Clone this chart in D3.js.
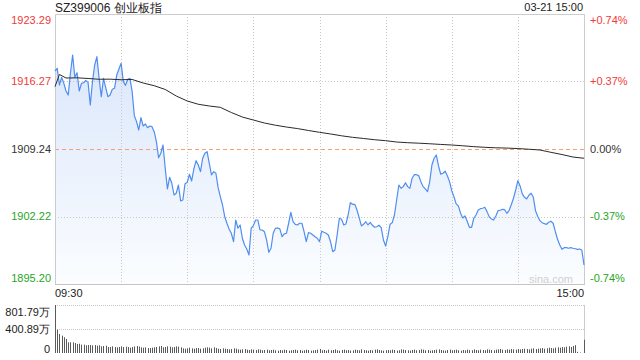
<!DOCTYPE html>
<html><head><meta charset="utf-8">
<script src="https://cdn.jsdelivr.net/npm/d3@7"></script>
<style>html,body{margin:0;padding:0;background:#fff;}svg{display:block;font-family:Arial,"Liberation Sans",sans-serif;}</style>
</head><body><svg id="c" width="640" height="360"></svg>
<script>
const title = "SZ399006 创业板指";
const dateLabel = "03-21 15:00";
const prevClose = 1909.24;
const priceTicks = [1923.29, 1916.27, 1909.24, 1902.22, 1895.20];
const pctLabels = ["+0.74%", "+0.37%", "0.00%", "-0.37%", "-0.74%"];
const timeLabels = ["09:30", "15:00"];
const gridMinutes = [30, 60, 90, 120, 150, 180, 210];
const volTicks = [801.79, 400.89, 0];
const volLabels = ["801.79万", "400.89万", "0"];

const price = [
1917.36,1917.64,1915.90,1916.70,1916.08,1915.28,1914.86,1917.12,1919.02,1916.70,
1917.18,1915.28,1916.08,1916.14,1916.39,1916.18,1913.82,1916.25,1917.98,1918.85,
1916.60,1914.69,1916.60,1915.62,1914.69,1914.86,1915.46,1915.56,1916.94,1917.57,
1918.16,1916.25,1915.87,1916.50,1916.60,1915.21,1912.71,1912.09,1911.22,1912.50,
1911.64,1911.85,1911.46,1911.64,1911.57,1911.05,1910.01,1908.34,1908.80,1909.66,
1907.24,1905.09,1906.30,1905.68,1904.46,1904.64,1905.50,1903.84,1903.94,1905.64,
1905.78,1906.62,1905.92,1907.17,1908.03,1907.58,1906.89,1908.28,1908.80,1908.97,
1907.76,1906.54,1906.89,1906.72,1905.22,1904.29,1903.42,1902.20,1901.52,1900.89,
1900.48,1899.60,1901.86,1901.00,1901.34,1899.96,1899.26,1898.84,1898.22,1901.00,
1901.27,1901.86,1901.86,1900.82,1900.82,1900.64,1899.78,1898.50,1898.92,1900.48,
1901.00,1901.03,1900.93,1900.12,1900.41,1900.48,1901.52,1902.66,1901.68,1901.41,
1901.34,1901.52,1901.52,1900.64,1899.60,1900.54,1900.48,1900.30,1900.12,1899.96,
1899.60,
1900.69,1900.58,1900.48,1900.30,1899.60,1898.56,1898.74,1900.30,1902.04,1901.93,
1901.34,1901.45,1902.38,1903.66,1903.49,1903.49,1902.90,1902.10,1901.24,1901.41,
1901.68,1901.34,1901.62,1901.31,1901.10,1901.16,1901.31,1901.06,1899.78,1899.16,
1900.12,1901.41,1901.58,1902.38,1903.94,1905.50,1905.16,1905.33,1905.74,1905.33,
1905.16,1906.20,1906.57,1906.57,1906.47,1905.85,1905.33,1905.09,1904.81,1905.85,
1907.58,1908.28,1908.62,1907.48,1906.62,1906.72,1906.93,1906.47,1905.85,1904.91,
1904.29,1903.53,1903.32,1902.56,1902.07,1902.28,1901.73,1901.10,1901.10,1902.04,
1902.38,1902.90,1903.04,1903.08,1903.18,1902.73,1902.20,1901.97,1901.86,1902.28,
1902.83,1902.87,1902.97,1902.93,1902.56,1902.83,1903.45,1904.12,1904.98,1905.95,
1905.40,1904.57,1904.22,1904.05,1904.43,1904.64,1904.22,1902.83,1902.25,1901.79,
1901.58,1901.48,1901.41,1901.62,1901.73,1901.52,1900.64,1899.85,1899.26,1898.81,
1898.98,1898.98,1898.92,1898.98,1898.92,1898.87,1898.81,1898.84,1898.74,1897.18
];

const avgMinutes = [0,2,5,10,15,20,25,30,35,40,45,50,55,60,65,70,75,80,85,90,95,100,105,110,115,120,
125,130,135,140,145,150,155,160,165,170,175,180,185,190,195,200,205,210,215,220,225,230,235,240];
const avgPrice = [1915.73,1917.00,1916.63,1916.65,1916.58,1916.50,1916.51,1916.45,1916.48,1916.11,
1915.83,1915.44,1914.76,1914.24,1913.90,1913.72,1913.58,1913.04,1912.57,1912.26,1911.95,1911.72,
1911.53,1911.37,1911.17,1910.98,1910.81,1910.62,1910.46,1910.34,1910.21,1910.11,1909.97,1909.90,
1909.85,1909.79,1909.72,1909.66,1909.58,1909.49,1909.42,1909.37,1909.34,1909.29,1909.22,1909.14,
1908.90,1908.67,1908.41,1908.28];

const volume = [
801.79,390,318,290,262,234,178,178,178,167,150,155,139,139,128,133,133,128,133,122,
128,111,117,122,100,100,111,100,95,100,111,100,106,100,89,100,111,117,106,95,
89,95,83,83,89,95,100,111,117,95,100,111,106,95,100,111,106,95,78,72,
78,89,78,72,83,83,72,78,89,95,89,78,95,83,72,67,78,72,67,61,
67,78,72,61,56,61,67,56,50,61,56,50,61,56,45,50,56,45,50,56,
45,39,50,45,56,50,39,45,50,56,45,50,39,45,56,50,39,45,50,56,67,
45,50,39,56,45,50,61,45,39,50,56,45,50,39,45,56,50,45,61,50,45,39,50,45,56,61,50,45,39,45,
50,45,56,50,39,45,61,56,50,45,39,50,56,45,50,61,56,45,50,39,45,50,56,61,50,45,39,50,56,45,
50,56,45,39,50,45,56,50,45,61,50,45,56,50,45,61,56,50,45,56,61,67,56,50,61,56,67,61,56,67,
61,67,72,67,61,72,78,67,72,78,83,72,78,89,83,78,89,95,89,100,95,106,111,100,117,131,
20,8,0,222
];

const svg = d3.select("#c");
const L = 55, R = 584, T = 14, B = 284;
const x = d3.scaleLinear().domain([0, 240]).range([L, R]);
const y = d3.scaleLinear().domain([1895.20, 1923.29]).range([B, T]);
const vy = d3.scaleLinear().domain([0, 801.79]).range([353, 305]);

const red = "#f03a3a", green = "#1fa51f", dark = "#333";
const colorFor = v => v > prevClose + 0.001 ? red : (v < prevClose - 0.001 ? green : dark);

// gradient
const defs = svg.append("defs");
const g = defs.append("linearGradient").attr("id", "ag").attr("gradientUnits", "userSpaceOnUse")
  .attr("x1", 0).attr("y1", T).attr("x2", 0).attr("y2", B);
g.append("stop").attr("offset", 0).attr("stop-color", "#d5e3fa");
g.append("stop").attr("offset", 1).attr("stop-color", "#fbfdff");

// area
const area = d3.area().x((d, i) => x(i)).y0(B).y1(d => y(d));
svg.append("path").datum(price).attr("d", area).attr("fill", "url(#ag)");

// horizontal grid
const px = v => Math.round(v) + 0.5;
svg.selectAll(".hg").data([priceTicks[1], priceTicks[3]]).enter().append("line")
  .attr("x1", L).attr("x2", R).attr("y1", d => px(y(d))).attr("y2", d => px(y(d)))
  .attr("stroke", "#c8c8c8").attr("stroke-dasharray", "1,2");
svg.selectAll(".vg").data(gridMinutes).enter().append("line")
  .attr("x1", d => px(x(d))).attr("x2", d => px(x(d))).attr("y1", T).attr("y2", B)
  .attr("stroke", "#c8c8c8").attr("stroke-dasharray", "1,2");
// prev close line
svg.append("line").attr("x1", L).attr("x2", R).attr("y1", px(y(prevClose))).attr("y2", px(y(prevClose)))
  .attr("stroke", "#f4a070").attr("stroke-dasharray", "4,3");

// border
svg.append("path").attr("d", `M${L+0.5},${B+0.5}V${T+0.5}H${R+0.5}V${B+0.5}`)
  .attr("fill", "none").attr("stroke", "#cccccc");
svg.append("line").attr("x1", L).attr("x2", R + 1).attr("y1", B + 0.5).attr("y2", B + 0.5).attr("stroke", "#c4c4c4");

// watermark
svg.append("text").attr("x", 573).attr("y", 283).attr("text-anchor", "end")
  .attr("font-size", 11).attr("fill", "#d0d0d0").text("sina.com");

// price line
const line = d3.line().x((d, i) => x(i)).y(d => y(d));
svg.append("path").datum(price).attr("d", line).attr("fill", "none")
  .attr("stroke", "#4f8ef0").attr("stroke-width", 1.2).attr("stroke-linejoin", "round");
// avg line
const aline = d3.line().x((d, i) => x(avgMinutes[i])).y(d => y(d));
svg.append("path").datum(avgPrice).attr("d", aline).attr("fill", "none")
  .attr("stroke", "#2a2a2a").attr("stroke-width", 1);

// left labels
const labelShift = i => i === 0 ? 6.5 : (i === priceTicks.length - 1 ? -6 : 0);
svg.selectAll(".ll").data(priceTicks).enter().append("text")
  .attr("x", 51).attr("y", (d, i) => y(d) + labelShift(i)).attr("dy", "0.35em")
  .attr("text-anchor", "end").attr("font-size", 11).attr("fill", d => colorFor(d))
  .text(d => d.toFixed(2));
svg.selectAll(".rl").data(priceTicks).enter().append("text")
  .attr("x", 590).attr("y", (d, i) => y(d) + labelShift(i)).attr("dy", "0.35em")
  .attr("text-anchor", "start").attr("font-size", 11).attr("fill", d => colorFor(d))
  .text((d, i) => pctLabels[i]);

// title & date
svg.append("text").attr("x", 55).attr("y", 12).attr("font-size", 12).attr("fill", "#222").text(title);
svg.append("text").attr("x", 583).attr("y", 11).attr("text-anchor", "end").attr("font-size", 11).attr("fill", "#222").text(dateLabel);

// time labels
svg.append("text").attr("x", x(0)).attr("y", 297).attr("font-size", 11).attr("fill", "#222").text(timeLabels[0]);
svg.append("text").attr("x", x(240)).attr("y", 297).attr("text-anchor", "end").attr("font-size", 11).attr("fill", "#222").text(timeLabels[1]);

// volume panel
svg.selectAll(".vgl").data([volTicks[0], volTicks[1]]).enter().append("line")
  .attr("x1", L).attr("x2", R).attr("y1", d => px(vy(d))).attr("y2", d => px(vy(d)))
  .attr("stroke", "#c8c8c8").attr("stroke-dasharray", "1,1");
svg.append("line").attr("x1", L + 0.5).attr("x2", L + 0.5).attr("y1", vy(volTicks[0])).attr("y2", vy(0)).attr("stroke", "#ccc");
svg.append("line").attr("x1", R + 0.5).attr("x2", R + 0.5).attr("y1", vy(volTicks[0])).attr("y2", vy(0)).attr("stroke", "#ccc");
svg.selectAll(".vb").data(volume).enter().append("rect")
  .attr("x", (d, i) => Math.round(x(i))).attr("width", 1)
  .attr("y", d => vy(d)).attr("height", d => vy(0) - vy(d)).attr("fill", "#5a5a5a");
const vShift = i => i === 0 ? 7 : (i === volTicks.length - 1 ? -4 : 0);
svg.selectAll(".vl").data(volTicks).enter().append("text")
  .attr("x", 50).attr("y", (d, i) => vy(d) + vShift(i)).attr("dy", "0.35em")
  .attr("text-anchor", "end").attr("font-size", 11).attr("fill", "#222")
  .text((d, i) => volLabels[i]);
</script></body></html>
